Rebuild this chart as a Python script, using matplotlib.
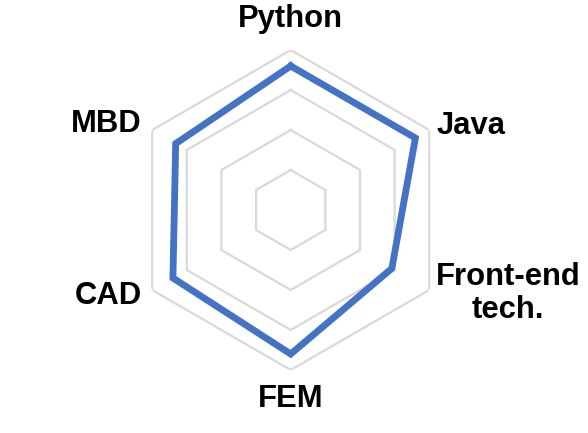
import numpy as np
import matplotlib
matplotlib.use("Agg")
import matplotlib.pyplot as plt

categories = ["Python", "Java", "Front-end\ntech.", "FEM", "CAD", "MBD"]
values = [90, 90, 73, 90, 85, 83]
ring_levels = [25, 50, 75, 100]

plt.rcParams['font.family'] = ['Liberation Sans', 'DejaVu Sans']

fig = plt.figure(figsize=(5.88, 4.33), dpi=100)
ax = fig.add_axes([0.2223, 0.1455, 0.5442, 0.739], projection='polar')
ax.set_theta_offset(np.pi / 2)
ax.set_theta_direction(-1)
ax.set_ylim(0, 100)

n = len(categories)
theta = np.arange(n) * 2 * np.pi / n
theta_closed = np.append(theta, theta[0])

for lvl in ring_levels:
    ax.plot(theta_closed, [lvl] * (n + 1), color='#D9D9D9', lw=1.6, zorder=1)

vals_closed = values + values[:1]
ax.plot(theta_closed, vals_closed, color='#4472C4', lw=4.9, solid_joinstyle='miter', zorder=3)

ax.set_xticks([])
ax.set_yticks([])
ax.grid(False)
ax.spines['polar'].set_visible(False)

label_cfg = [
    (110, 'center', 'bottom'),
    (105.6, 'left', 'center'),
    (104.5, 'left', 'center'),
    (109, 'center', 'top'),
    (107.5, 'right', 'center'),
    (107.5, 'right', 'center'),
]
for t, lab, (r, ha, va) in zip(theta, categories, label_cfg):
    ax.text(t, r, lab, ha=ha, va=va, fontsize=22.3, fontweight='bold',
            multialignment='center', linespacing=1.15, clip_on=False)

fig.savefig("out.png", dpi=100)
